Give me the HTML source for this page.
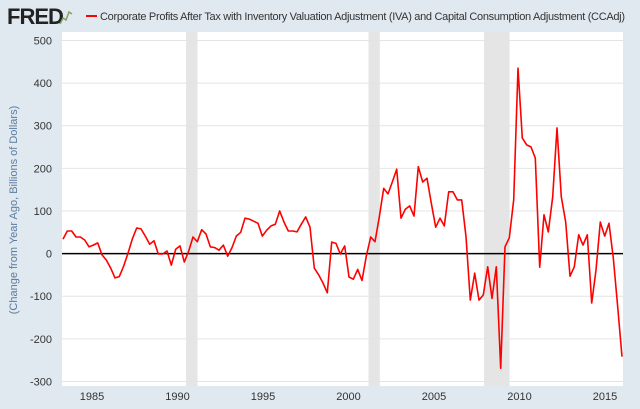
<!DOCTYPE html>
<html><head><meta charset="utf-8"><style>
body{margin:0;background:#e1e9f0;}
#wrap{position:relative;width:640px;height:409px;background:#e1e9f0;font-family:"Liberation Sans",sans-serif;overflow:hidden;}
</style></head><body>
<div id="wrap">
<svg id="chart" width="640" height="409" xmlns="http://www.w3.org/2000/svg"></svg>
</div>
<script>
const values = [34,53,53,39,39,32,16,20,25,-3,-15,-34,-57,-54,-29,1,34,60,58,41,22,30,-1,-1,6,-27,10,18,-20,6,39,28,56,46,16,14,8,20,-6,14,41,50,83,81,76,
71,41,55,65,69,100,74,53,53,51,69,86,62,-34,-50,-69,-92,27,24,-1,18,-55,-60,-37,-63,-6,39,28,86,153,140,168,198,83,104,112,88,204,168,177,118,62,83,65,145,
145,126,126,40,-109,-46,-109,-97,-31,-105,-31,-269,16,37,126,435,271,255,250,224,-32,91,51,133,295,133,74,-53,-31,44,20,44,-116,-39,74,41,71,-10,-125,-242];
const yTicks = [500,400,300,200,100,0,-100,-200,-300];
const xTickYears = [1985,1990,1995,2000,2005,2010,2015];
const recessions = [[1990.5,1991.17],[2001.17,2001.83],[2007.92,2009.42]];

const NS="http://www.w3.org/2000/svg";
const svg=document.getElementById('chart');
const L=62,R=623,T=32,B=386;
function y(v){return 253.6-v*0.4262;}
function xYear(t){return 92+(t-1985)*17.1;}
function xIdx(i){return 63+i*(559/(values.length-1));}
function mk(tag,attrs,parent){const e=document.createElementNS(NS,tag);for(const k in attrs)e.setAttribute(k,attrs[k]);(parent||svg).appendChild(e);return e;}

const plot=mk('rect',{x:L,y:T,width:R-L,height:B-T,fill:'#fff'});



recessions.forEach(r=>{
  const e=mk('rect',{x:xYear(r[0]),y:T,width:xYear(r[1])-xYear(r[0]),height:B-T,fill:'#e5e5e5'});
  
  
});

yTicks.forEach(v=>{
  if(v!==0){
    const g=mk('line',{x1:L,x2:R,y1:y(v),y2:y(v),stroke:'#e4e4e4','stroke-width':1});
    
    
  }
  const t=mk('text',{x:52,y:y(v)+4,'text-anchor':'end','font-size':11,fill:'#333'});
  t.textContent=v;
  
  
});

xTickYears.forEach(yr=>{
  const t=mk('text',{x:xYear(yr),y:400,'text-anchor':'middle','font-size':11,fill:'#333'});
  t.textContent=yr;
  
  
});

const zero=mk('line',{x1:L,x2:R,y1:y(0),y2:y(0),stroke:'#000','stroke-width':1.5});



const pts=values.map((v,i)=>xIdx(i).toFixed(1)+','+y(v).toFixed(1)).join(' ');
const line=mk('polyline',{points:pts,fill:'none',stroke:'#ff0000','stroke-width':1.6,'stroke-linejoin':'round'});



const yt=mk('text',{x:0,y:0,transform:'translate(17,210) rotate(-90)','text-anchor':'middle','font-size':11,fill:'#5b7ca0'});
yt.textContent='(Change from Year Ago, Billions of Dollars)';



const logo=mk('text',{x:7,y:24,'font-size':22,'font-weight':'bold',fill:'#222','letter-spacing':'-1'});
logo.textContent='FRED';


const ic=mk('polyline',{points:'60,24 63,18 66,20 69,12 72,14',fill:'none',stroke:'#7fa06a','stroke-width':1.5});



const lg=mk('line',{x1:86,x2:97,y1:16,y2:16,stroke:'#ff0000','stroke-width':2});


const lt=mk('text',{x:100,y:20,'font-size':11,fill:'#333'});
lt.textContent='Corporate Profits After Tax with Inventory Valuation Adjustment (IVA) and Capital Consumption Adjustment (CCAdj)';


lt.setAttribute('textLength','525');
</script>
</body></html>
